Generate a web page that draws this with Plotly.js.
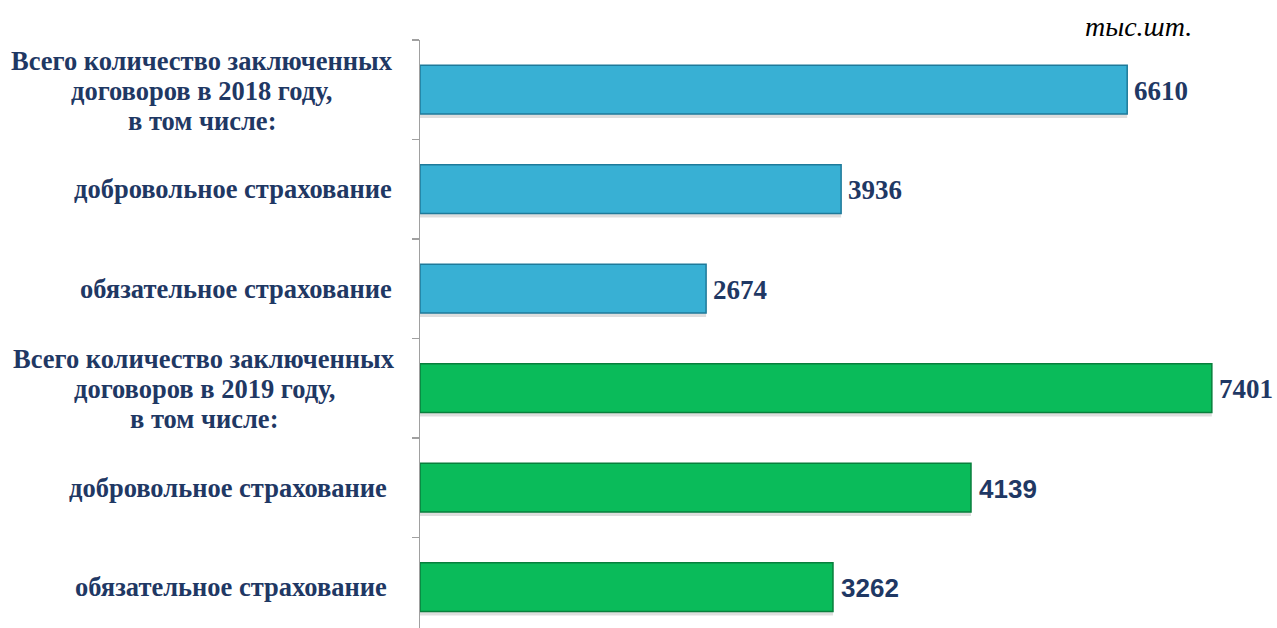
<!DOCTYPE html>
<html><head><meta charset="utf-8">
<script src="https://cdn.plot.ly/plotly-3.0.1.min.js"></script>
<style>html,body{margin:0;padding:0;background:#fff;}#chart{width:1277px;height:628px;}</style>
</head><body><div id="chart"></div>
<script>
// category keys (one per bar, top to bottom)
const categories = ["total2018", "vol2018", "mand2018", "total2019", "vol2019", "mand2019"];
// tick labels, line by line
const tickLabels = [
  ["Всего количество заключенных", "договоров в 2018 году,", "в том числе:"],
  ["добровольное страхование"],
  ["обязательное страхование"],
  ["Всего количество заключенных", "договоров в 2019 году,", "в том числе:"],
  ["добровольное страхование "],
  ["обязательное страхование "]
];
const cats2018 = categories.slice(0, 3);
const cats2019 = categories.slice(3, 6);
// printed values
const labels2018 = [6610, 3936, 2674];
const labels2019 = [7401, 4139, 3262];
// bar lengths as drawn in the picture (the last two bars are drawn longer than their labels)
const bars2018 = [6610, 3936, 2674];
const bars2019 = [7401, 5150, 3860];
const labelFont2018 = ["Liberation Serif", "Liberation Serif", "Liberation Serif"];
const labelFont2019 = ["Liberation Serif", "Liberation Sans", "Liberation Sans"];
const unitLabel = "тыс.шт.";

const navy = "#1F3864";
const L = 420, W = 857;
const px = v => (v - L) / W;

function shadow(y, x) {
  return {type: "bar", orientation: "h", y: y, x: x, width: 0.49, offset: -0.205,
    marker: {color: "rgba(0,0,0,0.13)", line: {width: 0}}, hoverinfo: "none"};
}
const traces = [
  shadow(cats2018, bars2018),
  shadow(cats2019, bars2019),
  {
    type: "bar", orientation: "h", y: cats2018, x: bars2018, width: 0.49, offset: -0.245,
    marker: {color: "#38B0D4", line: {color: "#1E7A9A", width: 1.5}}, hoverinfo: "none"
  },
  {
    type: "bar", orientation: "h", y: cats2019, x: bars2019, width: 0.49, offset: -0.245,
    marker: {color: "#0ABB5A", line: {color: "#087F3C", width: 1.5}}, hoverinfo: "none"
  }
];

const annotations = [];
tickLabels.forEach((lines, i) => {
  if (lines.length === 1) {
    annotations.push({xref: "paper", yref: "y", x: px(i < 3 ? 394 : 389), y: categories[i],
      xanchor: "right", yanchor: "middle", showarrow: false, text: "<b>" + lines[0].trim() + "</b>",
      font: {family: "Liberation Serif", size: 26.5, color: navy}});
  } else {
    lines.forEach((ln, j) => {
      annotations.push({xref: "paper", yref: "y", x: px(i < 3 ? 202 : 204), y: categories[i],
        xanchor: "center", yanchor: "middle", yshift: (1 - j) * 30 - 1, showarrow: false,
        text: "<b>" + ln + "</b>",
        font: {family: "Liberation Serif", size: 26.5, color: navy}});
    });
  }
});
function valueLabels(cats, bars, labels, fonts) {
  cats.forEach((c, i) => {
    const sans = fonts[i].indexOf("Sans") >= 0;
    annotations.push({xref: "x", yref: "y", x: bars[i], y: c, xanchor: "left", yanchor: "middle",
      xshift: sans ? 6 : 5, yshift: -1, showarrow: false, text: "<b>" + labels[i] + "</b>",
      font: {family: fonts[i], size: sans ? 26 : 27, color: navy}});
  });
}
valueLabels(cats2018, bars2018, labels2018, labelFont2018);
valueLabels(cats2019, bars2019, labels2019, labelFont2019);
annotations.push({
  xref: "paper", yref: "paper", x: px(1138), y: 1.0, yshift: 14,
  xanchor: "center", yanchor: "middle", showarrow: false,
  text: "<i>" + unitLabel + "</i>",
  font: {family: "Liberation Serif", size: 28, color: "#000"}
});

const layout = {
  width: 1277, height: 628,
  margin: {l: L, r: 0, t: 40, b: 0},
  paper_bgcolor: "#fff", plot_bgcolor: "#fff",
  barmode: "overlay",
  showlegend: false,
  xaxis: {range: [0, 8010], visible: false, showgrid: false, zeroline: false},
  yaxis: {
    type: "category", categoryorder: "array", categoryarray: categories,
    range: [5.41, -0.5], showticklabels: false, tickson: "boundaries",
    ticks: "outside", ticklen: 7, tickcolor: "#A0A0A0", tickwidth: 1.5,
    showline: true, linecolor: "#A0A0A0", linewidth: 1.5, showgrid: false, zeroline: false
  },
  annotations: annotations
};

Plotly.newPlot("chart", traces, layout, {displayModeBar: false, staticPlot: true});
</script></body></html>
